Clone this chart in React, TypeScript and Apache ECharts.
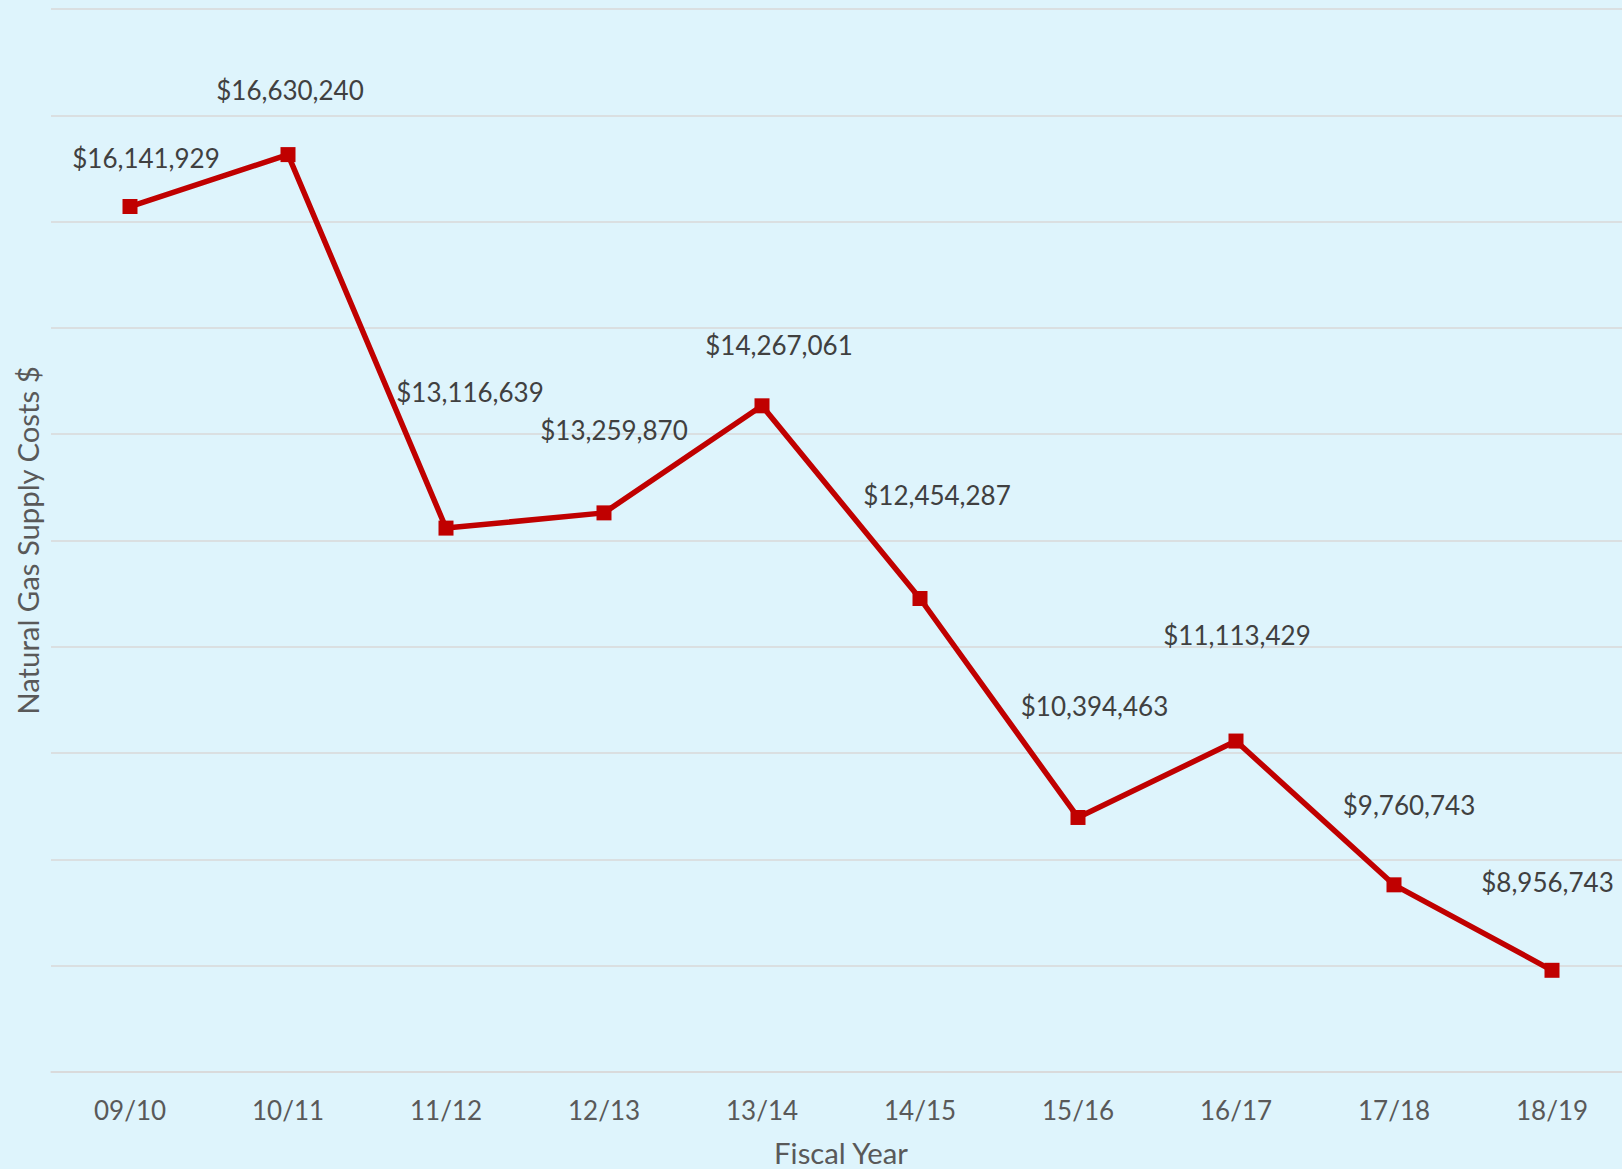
import React, { useEffect, useRef } from "react";
import * as echarts from "echarts";

const categories = ["09/10", "10/11", "11/12", "12/13", "13/14", "14/15", "15/16", "16/17", "17/18", "18/19"];
const costs = [16141929, 16630240, 13116639, 13259870, 14267061, 12454287, 10394463, 11113429, 9760743, 8956743];
const labelOffsets: [number, number][] = [
  [16, -49], [2, -65], [24, -136], [10, -83], [17, -61],
  [17, -104], [16.5, -111], [1, -106], [15, -80], [-4.5, -88],
];
const yMin = 8000000;
const yMax = 18000000;
const yStep = 1000000;

const FONT = "Lato";

function fmt(v: number) {
  return "$" + v.toLocaleString("en-US");
}

export default function App() {
  const ref = useRef<HTMLDivElement>(null);
  useEffect(() => {
    if (!ref.current) return;
    const chart = echarts.init(ref.current, undefined, { renderer: "svg" });
    chart.setOption({
      animation: false,
      backgroundColor: "#DEF4FC",
      grid: { left: 51, right: 9, top: 9, bottom: 97, containLabel: false, outerBoundsMode: "none" },
      xAxis: {
        type: "category",
        data: categories,
        boundaryGap: true,
        axisLine: { show: true, lineStyle: { color: "#D9D9D9", width: 1.5 } },
        axisTick: { show: false },
        axisLabel: { color: "#595959", fontFamily: FONT, fontSize: 26, lineHeight: 26, margin: 25 },
        name: "Fiscal Year",
        nameLocation: "middle",
        nameGap: 66,
        nameTextStyle: { color: "#595959", fontFamily: FONT, fontSize: 29.3, lineHeight: 29 },
      },
      yAxis: {
        type: "value",
        min: yMin,
        max: yMax,
        interval: yStep,
        axisLine: { show: false },
        axisTick: { show: false },
        axisLabel: { show: false },
        splitLine: { show: true, lineStyle: { color: "#D9D9D9", width: 1.5 } },
        name: "Natural Gas Supply Costs $",
        nameLocation: "middle",
        nameGap: 9,
        nameTextStyle: { color: "#595959", fontFamily: FONT, fontSize: 29.3, lineHeight: 29 },
      },
      series: [
        {
          type: "line",
          data: costs.map((v, i) => ({
            value: v,
            label: { offset: labelOffsets[i] },
          })),
          symbol: "rect",
          symbolSize: 15,
          lineStyle: { color: "#C00000", width: 5.5 },
          itemStyle: { color: "#C00000" },
          label: {
            show: true,
            position: "inside",
            align: "center",
            verticalAlign: "middle",
            color: "#404040",
            fontFamily: FONT,
            fontSize: 26,
            formatter: (p: any) => fmt(p.value),
          },
        },
      ],
    });
    return () => chart.dispose();
  }, []);
  return (
    <div style={{ position: "absolute", left: 0, top: 0, width: 1622, height: 1169, overflow: "hidden", background: "#DEF4FC" }}>
      <div ref={ref} style={{ width: 1640, height: 1169 }} />
    </div>
  );
}
